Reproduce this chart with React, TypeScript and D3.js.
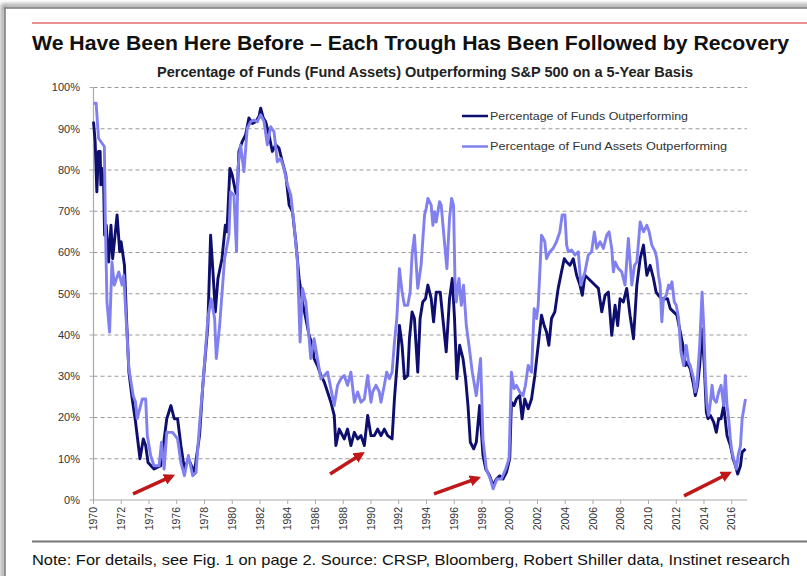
import React from "react";
import * as d3 from "d3";

// Percentage of Funds Outperforming (dark series) — [year, %]
const fundsSeries: [number, number][] = [
  [1970.0, 91.7], [1970.12, 86.9], [1970.24, 74.7], [1970.36, 84.5], [1970.48, 84.5], [1970.53, 76.4],
  [1970.61, 80.4], [1970.73, 76.4], [1970.8, 64.2], [1970.92, 66.6], [1971.09, 57.7], [1971.26, 66.6],
  [1971.38, 58.5], [1971.7, 69.1], [1971.89, 60.2], [1971.99, 62.6], [1972.23, 56.9], [1972.38, 44.0],
  [1972.55, 31.0], [1972.79, 24.5], [1973.03, 18.9], [1973.35, 10.0], [1973.59, 14.8], [1973.76, 13.2],
  [1973.93, 9.1], [1974.36, 7.5], [1974.85, 8.3], [1975.28, 19.7], [1975.58, 22.9], [1975.82, 19.7],
  [1976.06, 19.7], [1976.3, 13.2], [1976.55, 7.5], [1976.84, 10.0], [1977.27, 6.7], [1977.64, 15.6],
  [1977.88, 27.8], [1978.24, 42.3], [1978.44, 64.2], [1978.61, 55.3], [1978.78, 45.6], [1978.97, 53.7],
  [1979.26, 58.5], [1979.5, 66.6], [1979.62, 65.0], [1979.83, 80.4], [1980.0, 78.8], [1980.24, 74.7],
  [1980.36, 73.9], [1980.48, 84.5], [1980.72, 86.9], [1980.96, 88.5], [1981.2, 92.6], [1981.45, 91.3],
  [1981.69, 91.7], [1981.93, 93.0], [1982.05, 95.0], [1982.24, 92.6], [1982.41, 91.7], [1982.65, 88.5],
  [1982.89, 84.5], [1983.13, 86.1], [1983.37, 85.3], [1983.61, 82.0], [1983.86, 78.8], [1984.1, 71.5],
  [1984.34, 69.9], [1984.58, 62.6], [1984.82, 53.7], [1985.06, 48.0], [1985.3, 44.0], [1985.54, 39.9],
  [1985.78, 37.5], [1985.9, 34.3], [1986.14, 32.6], [1986.39, 30.2], [1986.63, 28.6], [1986.87, 26.2],
  [1987.11, 23.7], [1987.35, 20.5], [1987.47, 13.2], [1987.71, 17.2], [1988.07, 14.8], [1988.31, 17.2],
  [1988.55, 13.2], [1988.8, 16.4], [1989.04, 14.8], [1989.28, 15.6], [1989.52, 13.2], [1989.76, 20.5],
  [1990.0, 15.6], [1990.24, 15.6], [1990.48, 17.2], [1990.72, 15.6], [1990.96, 17.2], [1991.2, 15.6],
  [1991.52, 14.8], [1991.69, 24.5], [1991.93, 35.1], [1992.05, 42.3], [1992.24, 37.5], [1992.41, 29.4],
  [1992.65, 30.2], [1992.77, 39.1], [1992.96, 45.6], [1993.13, 44.0], [1993.25, 37.5], [1993.37, 31.0],
  [1993.54, 44.0], [1993.73, 48.0], [1993.93, 48.8], [1994.1, 52.1], [1994.34, 48.8], [1994.51, 43.2],
  [1994.7, 50.4], [1994.99, 50.4], [1995.18, 44.0], [1995.42, 35.9], [1995.66, 48.8], [1995.86, 53.7],
  [1996.02, 44.0], [1996.19, 29.4], [1996.39, 37.5], [1996.63, 34.3], [1996.82, 29.4], [1996.99, 22.9],
  [1997.16, 14.0], [1997.4, 12.4], [1997.59, 14.0], [1997.83, 22.9], [1998.07, 10.8], [1998.27, 7.5],
  [1998.55, 5.9], [1998.8, 3.5], [1999.04, 5.1], [1999.28, 5.9], [1999.52, 5.1], [1999.76, 6.7],
  [2000.0, 10.0], [2000.12, 23.7], [2000.31, 22.9], [2000.48, 24.5], [2000.72, 25.3], [2000.89, 19.7],
  [2001.08, 24.5], [2001.33, 22.1], [2001.57, 24.5], [2001.81, 30.2], [2002.05, 37.5], [2002.29, 44.8],
  [2002.48, 42.3], [2002.65, 40.7], [2002.82, 37.5], [2003.01, 44.0], [2003.25, 45.6], [2003.49, 51.3],
  [2003.73, 55.3], [2003.93, 58.5], [2004.1, 57.7], [2004.34, 56.9], [2004.58, 58.5], [2004.82, 54.5],
  [2005.06, 52.1], [2005.23, 49.6], [2005.42, 54.5], [2005.66, 53.7], [2005.9, 52.9], [2006.14, 52.1],
  [2006.39, 51.3], [2006.63, 45.6], [2006.87, 49.6], [2007.11, 50.4], [2007.35, 39.9], [2007.59, 47.2],
  [2007.78, 42.3], [2007.95, 48.8], [2008.19, 48.0], [2008.43, 51.3], [2008.67, 44.8], [2008.92, 39.1],
  [2009.16, 52.1], [2009.4, 58.5], [2009.64, 61.8], [2009.88, 54.5], [2010.12, 56.9], [2010.36, 53.7],
  [2010.55, 50.4], [2010.72, 49.6], [2010.96, 48.8], [2011.2, 48.8], [2011.37, 48.8], [2011.57, 46.4],
  [2011.81, 45.6], [2012.05, 44.8], [2012.29, 40.7], [2012.48, 37.5], [2012.65, 32.6], [2012.77, 33.4],
  [2013.01, 31.8], [2013.25, 27.8], [2013.37, 25.3], [2013.54, 27.8], [2013.69, 32.6], [2013.86, 41.5],
  [2014.02, 32.6], [2014.17, 21.3], [2014.29, 19.7], [2014.46, 20.5], [2014.7, 18.9], [2014.89, 16.4],
  [2015.06, 19.7], [2015.23, 19.7], [2015.42, 22.9], [2015.66, 15.6], [2015.9, 13.2], [2016.1, 10.0],
  [2016.27, 8.3], [2016.43, 6.3], [2016.63, 8.3], [2016.75, 11.6], [2016.99, 12.4],
];

// Percentage of Fund Assets Outperforming (light series) — [year, %]
const assetsSeries: [number, number][] = [
  [1970.0, 96.2], [1970.19, 96.2], [1970.36, 87.7], [1970.78, 85.7], [1970.85, 68.3], [1970.97, 48.0],
  [1971.16, 40.7], [1971.33, 57.7], [1971.5, 52.1], [1971.82, 55.3], [1972.06, 52.1], [1972.18, 54.5],
  [1972.55, 31.8], [1972.86, 25.3], [1973.03, 23.7], [1973.15, 19.7], [1973.52, 24.5], [1973.76, 24.5],
  [1973.88, 15.6], [1974.12, 10.8], [1974.36, 8.3], [1974.73, 8.3], [1974.9, 14.0], [1975.09, 7.5],
  [1975.28, 16.4], [1975.7, 16.4], [1976.06, 14.8], [1976.3, 9.1], [1976.55, 5.9], [1976.84, 10.8],
  [1977.15, 5.9], [1977.39, 6.7], [1977.64, 18.1], [1977.88, 27.8], [1978.24, 44.0], [1978.48, 48.8],
  [1978.73, 44.0], [1978.85, 34.3], [1979.09, 42.3], [1979.45, 58.5], [1979.76, 64.2], [1979.88, 74.7],
  [1980.12, 73.9], [1980.31, 60.2], [1980.41, 80.4], [1980.6, 86.1], [1980.84, 79.6], [1981.08, 90.1],
  [1981.33, 91.7], [1981.57, 92.1], [1981.81, 91.7], [1982.05, 93.4], [1982.29, 91.7], [1982.53, 86.1],
  [1982.77, 90.5], [1983.01, 89.3], [1983.25, 82.0], [1983.49, 82.8], [1983.73, 80.4], [1983.98, 76.4],
  [1984.22, 73.9], [1984.46, 66.6], [1984.7, 57.7], [1984.89, 38.3], [1985.06, 51.3], [1985.3, 48.0],
  [1985.54, 39.1], [1985.66, 34.3], [1985.9, 39.1], [1986.14, 34.3], [1986.39, 29.4], [1986.63, 30.2],
  [1986.87, 31.0], [1987.11, 27.0], [1987.35, 22.9], [1987.59, 27.8], [1987.83, 29.4], [1988.07, 30.2],
  [1988.31, 27.8], [1988.55, 31.0], [1988.8, 23.7], [1989.04, 26.2], [1989.28, 23.7], [1989.52, 24.5],
  [1989.76, 30.2], [1990.0, 23.7], [1990.12, 26.2], [1990.36, 27.8], [1990.6, 26.2], [1990.72, 23.7],
  [1990.96, 27.8], [1991.13, 31.0], [1991.33, 29.4], [1991.52, 31.0], [1991.69, 38.3], [1991.86, 44.0],
  [1992.05, 56.1], [1992.24, 50.4], [1992.41, 47.2], [1992.65, 47.2], [1992.82, 50.4], [1992.96, 59.4],
  [1993.13, 64.2], [1993.25, 57.7], [1993.37, 51.3], [1993.61, 56.9], [1993.86, 69.1], [1993.98, 70.7],
  [1994.1, 73.1], [1994.34, 71.5], [1994.46, 66.6], [1994.58, 69.9], [1994.7, 67.4], [1994.82, 69.9],
  [1994.94, 72.3], [1995.06, 71.5], [1995.23, 65.0], [1995.47, 56.1], [1995.66, 68.3], [1995.81, 73.1],
  [1995.95, 71.5], [1996.05, 53.7], [1996.14, 48.0], [1996.34, 53.7], [1996.51, 47.2], [1996.67, 52.1],
  [1996.87, 42.3], [1997.06, 37.5], [1997.3, 31.0], [1997.59, 25.3], [1997.9, 34.3], [1998.07, 14.8],
  [1998.31, 7.5], [1998.6, 5.1], [1998.8, 2.7], [1999.08, 5.1], [1999.4, 5.1], [1999.71, 7.5],
  [1999.95, 10.0], [2000.12, 31.0], [2000.31, 27.0], [2000.48, 27.8], [2000.72, 26.2], [2000.96, 25.3],
  [2001.13, 27.8], [2001.33, 32.6], [2001.57, 31.0], [2001.76, 46.4], [2001.93, 44.0], [2002.05, 47.2],
  [2002.17, 55.3], [2002.29, 64.2], [2002.53, 62.6], [2002.65, 58.5], [2002.89, 60.2], [2003.13, 61.0],
  [2003.37, 62.6], [2003.61, 65.0], [2003.78, 69.1], [2003.98, 69.1], [2004.1, 61.8], [2004.22, 60.2],
  [2004.46, 60.6], [2004.7, 59.4], [2004.94, 60.2], [2005.13, 52.1], [2005.42, 55.3], [2005.66, 59.4],
  [2005.9, 60.2], [2006.1, 65.0], [2006.27, 61.0], [2006.51, 62.6], [2006.75, 61.0], [2006.99, 64.2],
  [2007.16, 65.0], [2007.35, 61.0], [2007.47, 55.3], [2007.59, 57.7], [2007.83, 56.1], [2008.07, 55.3],
  [2008.31, 52.1], [2008.55, 63.4], [2008.8, 52.1], [2008.99, 56.9], [2009.16, 57.7], [2009.4, 67.4],
  [2009.64, 65.0], [2009.88, 66.6], [2010.05, 65.0], [2010.24, 61.8], [2010.48, 60.2], [2010.6, 58.5],
  [2010.72, 54.5], [2010.84, 52.1], [2010.96, 43.2], [2011.08, 48.8], [2011.28, 49.6], [2011.45, 52.1],
  [2011.57, 51.3], [2011.69, 52.9], [2011.86, 48.0], [2012.0, 47.2], [2012.17, 44.0], [2012.34, 35.9],
  [2012.53, 32.6], [2012.72, 37.5], [2012.89, 33.4], [2013.01, 32.6], [2013.13, 31.0], [2013.25, 29.4],
  [2013.37, 26.2], [2013.49, 27.8], [2013.69, 37.5], [2013.86, 50.4], [2013.98, 42.3], [2014.1, 29.4],
  [2014.22, 22.9], [2014.34, 20.5], [2014.46, 23.7], [2014.58, 27.8], [2014.7, 24.5], [2014.89, 23.7],
  [2015.06, 26.2], [2015.23, 27.8], [2015.42, 22.9], [2015.54, 30.2], [2015.66, 22.9], [2015.78, 19.7],
  [2015.9, 14.8], [2016.02, 11.6], [2016.14, 10.0], [2016.34, 7.5], [2016.46, 10.8], [2016.63, 13.2],
  [2016.75, 19.7], [2016.87, 22.1], [2016.99, 24.5],
];

const seriesNames = ["Percentage of Funds Outperforming", "Percentage of Fund Assets Outperforming"];
const yTicks = [0, 10, 20, 30, 40, 50, 60, 70, 80, 90, 100];
const xTicks = d3.range(1970, 2017, 2);
// Trough annotation arrows: [fromYear, fromPct, toYear, toPct]
const arrows: [number, number, number, number][] = [
  [1972.85, 1.5, 1975.66, 5.8],
  [1987.05, 6.3, 1989.35, 11.2],
  [1994.54, 1.5, 1997.7, 5.3],
  [2012.56, 1.0, 2015.8, 6.5],
];

const title = "We Have Been Here Before – Each Trough Has Been Followed by Recovery";
const subtitle = "Percentage of Funds (Fund Assets) Outperforming S&P 500 on a 5-Year Basis";
const note = "Note: For details, see Fig. 1 on page 2. Source: CRSP, Bloomberg, Robert Shiller data, Instinet research";

const W = 807;
const H = 576;
const DARK = "#0e0e6e";
const LIGHT = "#8080ee";
const FONT = "'Liberation Sans', Arial, Helvetica, sans-serif";

export default function App() {
  const x = d3.scaleLinear().domain([1970, 2017.1]).range([93.5, 747]);
  const y = d3.scaleLinear().domain([0, 100]).range([500, 87.5]);
  const line = d3
    .line<[number, number]>()
    .x((d) => x(d[0]))
    .y((d) => y(d[1]));

  return (
    <svg
      width={W}
      height={H}
      style={{ position: "absolute", left: 0, top: 0, background: "#fff" }}
      fontFamily={FONT}
    >
      <defs>
        <filter id="sh" x="-50%" y="-50%" width="200%" height="200%">
          <feGaussianBlur stdDeviation="2" />
        </filter>
        <marker id="ah" viewBox="0 0 10 10" refX="7" refY="5" markerWidth="3.2" markerHeight="3.2" orient="auto">
          <path d="M0,0 L10,5 L0,10 z" fill="#c01818" />
        </marker>
      </defs>
      {/* frame */}
      <rect x={3} y={6} width={W + 10} height={H + 10} fill="none" stroke="#999" strokeWidth={4} filter="url(#sh)" />
      <rect x={5} y={8} width={W + 10} height={H + 10} fill="#fff" stroke="#7a7a7a" strokeWidth={1.5} />
      <line x1={32} x2={W} y1={23} y2={23} stroke="#e26a6a" strokeWidth={1.5} />

      <text x={32} y={50} fontSize={20} fontWeight="bold" fill="#111" textLength={757} lengthAdjust="spacingAndGlyphs">
        {title}
      </text>
      <text x={157} y={77} fontSize={14} fontWeight="bold" fill="#222" textLength={536} lengthAdjust="spacingAndGlyphs">
        {subtitle}
      </text>

      {/* gridlines */}
      {yTicks.filter((t) => t > 0).map((t) => (
        <line key={t} x1={x(1970)} x2={x(2017.1)} y1={y(t)} y2={y(t)} stroke="#9a9a9a" strokeWidth={1} strokeDasharray="4,3" />
      ))}
      {/* y axis */}
      <line x1={x(1970)} x2={x(1970)} y1={y(100)} y2={y(0)} stroke="#aaa" strokeWidth={1.2} />
      {yTicks.map((t) => (
        <g key={t}>
          <line x1={x(1970) - 4} x2={x(1970)} y1={y(t)} y2={y(t)} stroke="#aaa" />
          <text x={80} y={y(t)} dy="0.35em" textAnchor="end" fontSize={11} fill="#333">
            {t}%
          </text>
        </g>
      ))}
      {/* x axis */}
      <line x1={x(1970)} x2={x(2017.1)} y1={y(0)} y2={y(0)} stroke="#aaa" strokeWidth={1.2} />
      {xTicks.map((t) => (
        <g key={t}>
          <line x1={x(t)} x2={x(t)} y1={y(0)} y2={y(0) + 4} stroke="#aaa" />
          <text
            transform={`translate(${x(t)},${y(0) + 7}) rotate(-90)`}
            dy="0.35em"
            textAnchor="end"
            fontSize={10.5}
            fill="#333"
          >
            {t}
          </text>
        </g>
      ))}

      {/* series */}
      <path d={line(fundsSeries) || ""} fill="none" stroke={DARK} strokeWidth={2.9} strokeLinejoin="round" />
      <path d={line(assetsSeries) || ""} fill="none" stroke={LIGHT} strokeWidth={2.9} strokeLinejoin="round" />

      {/* legend */}
      <line x1={462} x2={488} y1={116} y2={116} stroke={DARK} strokeWidth={2.5} />
      <text x={490} y={116} dy="0.35em" fontSize={11} fill="#333" textLength={198} lengthAdjust="spacingAndGlyphs">
        {seriesNames[0]}
      </text>
      <line x1={462} x2={488} y1={146.5} y2={146.5} stroke={LIGHT} strokeWidth={2.5} />
      <text x={490} y={146.5} dy="0.35em" fontSize={11} fill="#333" textLength={237} lengthAdjust="spacingAndGlyphs">
        {seriesNames[1]}
      </text>

      {/* arrows */}
      {arrows.map((a, i) => (
        <line
          key={i}
          x1={x(a[0])}
          y1={y(a[1])}
          x2={x(a[2])}
          y2={y(a[3])}
          stroke="#c01818"
          strokeWidth={3.5}
          markerEnd="url(#ah)"
        />
      ))}

      <line x1={32} x2={W} y1={541.5} y2={541.5} stroke="#777" strokeWidth={2} />
      <text x={32} y={565} fontSize={15} fill="#111" textLength={758} lengthAdjust="spacingAndGlyphs">
        {note}
      </text>
    </svg>
  );
}
